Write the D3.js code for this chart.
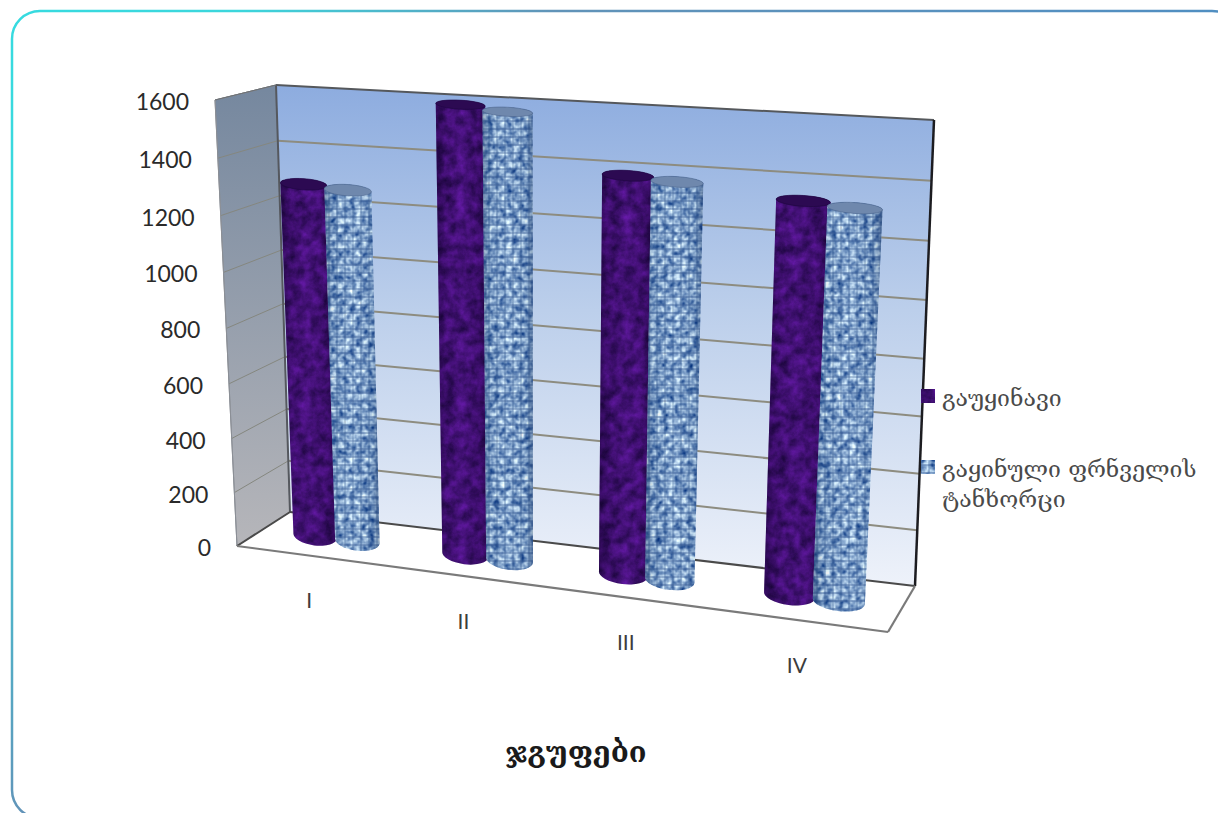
<!DOCTYPE html>
<html lang="ka">
<head>
<meta charset="utf-8">
<title>ჯგუფები</title>
<script src="https://cdn.jsdelivr.net/npm/d3@7"></script>
<style>
  html, body { margin: 0; padding: 0; background: #fff; overflow: hidden; }
  svg { display: block; }
</style>
</head>
<body>
<svg id="chart" width="1218" height="813"></svg>
<script>
// Chart data
const categories = ["I", "II", "III", "IV"];
const seriesNames = ["გაუყინავი", "გაყინული ფრნველის ტანხორცი"];
const unfrozen = [1290, 1600, 1395, 1350];
const frozen = [1280, 1585, 1385, 1338];
const yTicks = [0, 200, 400, 600, 800, 1000, 1200, 1400, 1600];
const axisTitle = "ჯგუფები";

const svg = d3.select("#chart");
const defs = svg.append("defs");

// Box corners on screen: floor level and ceiling level, front and back
const floorBox = { fl: [237, 546], fr: [888, 632], bl: [290, 512], br: [915, 586] };
const ceilBox = { fl: [215, 100], fr: [916, 142], bl: [276, 85], br: [934, 120] };

const lerp = (a, b, k) => a + (b - a) * k;
const lerp2 = (p, q, k) => [lerp(p[0], q[0], k), lerp(p[1], q[1], k)];
const onBox = (box, u, d) => lerp2(lerp2(box.fl, box.fr, u), lerp2(box.bl, box.br, u), d);

// Perspective foreshortening along an axis of the box
const warp = k => t => t / (1 + k - k * t);
const warpY = warp(0.05);
const warpX = warp(0.11);

const y = d3.scaleLinear().domain([0, 1600]).range([0, 1]);
const x0 = d3.scaleBand().domain(categories).range([0, 1]);
const x1 = d3.scaleBand().domain([0, 1]).range([0, x0.bandwidth()]).paddingInner(0).paddingOuter(0.754);

const project = (u, d, v) => lerp2(onBox(floorBox, u, d), onBox(ceilBox, u, d), warpY(y(v)));
const pathOf = pts => d3.line()(pts) + "Z";

// Fills
function linear(id, x1v, y1v, x2v, y2v, stops) {
  const g = defs.append("linearGradient").attr("id", id)
    .attr("gradientUnits", "userSpaceOnUse")
    .attr("x1", x1v).attr("y1", y1v).attr("x2", x2v).attr("y2", y2v);
  stops.forEach(([o, c]) => g.append("stop").attr("offset", o).attr("stop-color", c));
}
linear("frameStroke", 0, 0, 1218, 813, [[0, "#36dbe0"], [0.14, "#3cd6dc"], [0.32, "#6193b8"], [0.6, "#5590c0"], [1, "#3f88c4"]]);
linear("backWall", 0, 85, 0, 586, [[0, "#8dacdf"], [0.45, "#bccfeb"], [1, "#eef2fa"]]);
linear("leftWall", 0, 90, 0, 546, [[0, "#76889f"], [1, "#b6b6ba"]]);

function shade(id, stops) {
  const g = defs.append("linearGradient").attr("id", id);
  stops.forEach(([o, c, a]) => g.append("stop").attr("offset", o).attr("stop-color", c).attr("stop-opacity", a));
}
shade("shadePurple", [[0, "#12002c", 0.5], [0.2, "#12002c", 0.1], [0.5, "#6a20b0", 0.12], [0.8, "#12002c", 0.1], [1, "#12002c", 0.5]]);
shade("shadeBlue", [[0, "#2a4470", 0.6], [0.16, "#2a4470", 0.12], [0.5, "#ffffff", 0.06], [0.84, "#2a4470", 0.12], [1, "#2a4470", 0.6]]);

// Mottled cloth textures
function noise(id, freq, octaves, seed, matrix) {
  const f = defs.append("filter").attr("id", id)
    .attr("filterUnits", "objectBoundingBox")
    .attr("x", 0).attr("y", 0).attr("width", 1).attr("height", 1)
    .attr("color-interpolation-filters", "sRGB");
  f.append("feTurbulence").attr("type", "fractalNoise")
    .attr("baseFrequency", freq).attr("numOctaves", octaves).attr("seed", seed);
  f.append("feColorMatrix").attr("type", "matrix").attr("values", matrix);
}
noise("purpleCloth", "0.09", 4, 4,
  "0.38 0 0 0 0.06  0.10 0 0 0 0.01  0.55 0 0 0 0.17  0 0 0 0 1");
noise("blueCloth", "0.16", 2, 9,
  "1.4 0 0 0 -0.19  1.25 0 0 0 0.02  0.85 0 0 0 0.38  0 0 0 0 1");

const weave = defs.append("pattern").attr("id", "weave")
  .attr("patternUnits", "userSpaceOnUse").attr("width", 8).attr("height", 8);
weave.append("rect").attr("x", 0).attr("y", 0).attr("width", 8).attr("height", 2)
  .attr("fill", "#2f5590").attr("opacity", 0.38);
weave.append("rect").attr("x", 0).attr("y", 0).attr("width", 2).attr("height", 8)
  .attr("fill", "#2f5590").attr("opacity", 0.3);

// Page frame
svg.append("rect")
  .attr("x", 12).attr("y", 11).attr("width", 1228).attr("height", 807)
  .attr("rx", 28).attr("ry", 28)
  .attr("fill", "#fff").attr("stroke", "url(#frameStroke)").attr("stroke-width", 2.5);

// Box walls and floor
svg.append("path")
  .attr("d", pathOf([ceilBox.fl, ceilBox.bl, floorBox.bl, floorBox.fl]))
  .attr("fill", "url(#leftWall)").attr("stroke", "#8b8f96").attr("stroke-width", 1);
svg.append("path")
  .attr("d", pathOf([ceilBox.bl, ceilBox.br, floorBox.br, floorBox.bl]))
  .attr("fill", "url(#backWall)");

// Gridlines across both walls
const gridG = svg.append("g");
yTicks.slice(1).forEach(t => {
  gridG.append("line")
    .attr("x1", project(0, 0, t)[0]).attr("y1", project(0, 0, t)[1])
    .attr("x2", project(0, 1, t)[0]).attr("y2", project(0, 1, t)[1])
    .attr("stroke", "#85877f").attr("stroke-width", 1);
  if (t < 1600) gridG.append("line")
    .attr("x1", project(0, 1, t)[0]).attr("y1", project(0, 1, t)[1])
    .attr("x2", project(1, 1, t)[0]).attr("y2", project(1, 1, t)[1])
    .attr("stroke", "#8d8c80").attr("stroke-width", 2);
});

// Box edges
const edge = (a, b, color, w) => svg.append("line")
  .attr("x1", a[0]).attr("y1", a[1]).attr("x2", b[0]).attr("y2", b[1])
  .attr("stroke", color).attr("stroke-width", w);
edge(ceilBox.bl, ceilBox.br, "#55585c", 2);
edge(ceilBox.br, floorBox.br, "#1c1c20", 2.5);
edge(ceilBox.bl, floorBox.bl, "#55585e", 2);
edge(ceilBox.fl, ceilBox.bl, "#6c7078", 1);
edge(ceilBox.fl, floorBox.fl, "#8b8f96", 1);
edge(floorBox.bl, floorBox.br, "#4a4a4a", 2);
edge(floorBox.fl, floorBox.bl, "#4a4a4a", 2);
edge(floorBox.fl, floorBox.fr, "#7a7a7a", 2.2);
edge(floorBox.fr, floorBox.br, "#7a7a7a", 2.2);

// Cylinders, standing half way back on the floor
const depth = 0.5;
const groups = [
  { values: unfrozen, cloth: "purpleCloth", shadeId: "shadePurple", cap: "#2c0a52", capEdge: "#1e0640" },
  { values: frozen, cloth: "blueCloth", shadeId: "shadeBlue", cap: "#6f88ad", capEdge: "#4d668f" }
];

function cylinderShape(catIndex, seriesIndex, value) {
  const bw = x1.bandwidth();
  const start = x0(categories[catIndex]) + x1(seriesIndex);
  const grow = bw * 0.03;
  const uL = warpX(start - grow), uR = warpX(start + bw + grow), uC = warpX(start + bw / 2);
  const level = v => {
    const c = project(uC, depth, v);
    const l = project(uL, depth, v);
    const r = project(uR, depth, v);
    const rx = (r[0] - l[0]) / 2;
    const ang = Math.atan2(r[1] - l[1], r[0] - l[0]);
    const ry = lerp(10, 4.5, warpY(y(v)));
    return { c, rx, ry, ang, dx: rx * Math.cos(ang), dy: rx * Math.sin(ang) };
  };
  return { bottom: level(0), top: level(value) };
}

let clipId = 0;
const cylG = svg.append("g");
groups.forEach((group, s) => {
  group.values.forEach((value, i) => {
    const { bottom: b, top: t } = cylinderShape(i, s, value);
    const deg = a => a * 180 / Math.PI;
    const body =
      `M${t.c[0] - t.dx},${t.c[1] - t.dy}` +
      `L${b.c[0] - b.dx},${b.c[1] - b.dy}` +
      `A${b.rx},${b.ry} ${deg(b.ang)} 0 0 ${b.c[0] + b.dx},${b.c[1] + b.dy}` +
      `L${t.c[0] + t.dx},${t.c[1] + t.dy}` +
      `A${t.rx},${t.ry} ${deg(t.ang)} 0 0 ${t.c[0] - t.dx},${t.c[1] - t.dy}Z`;
    const id = "cyl" + clipId++;
    defs.append("clipPath").attr("id", id).append("path").attr("d", body);

    const minX = Math.min(t.c[0] - t.rx, b.c[0] - b.rx) - 2;
    const maxX = Math.max(t.c[0] + t.rx, b.c[0] + b.rx) + 2;
    const minY = t.c[1] - t.ry - 4;
    const maxY = b.c[1] + b.ry + 6;
    const g = cylG.append("g").attr("clip-path", `url(#${id})`);
    const frame = sel => sel.attr("x", minX).attr("y", minY)
      .attr("width", maxX - minX).attr("height", maxY - minY);
    g.append("rect").call(frame).attr("filter", `url(#${group.cloth})`);
    if (s === 1) g.append("rect").call(frame).attr("fill", "url(#weave)");
    g.append("rect").call(frame).attr("fill", `url(#${group.shadeId})`);

    cylG.append("ellipse")
      .attr("cx", t.c[0]).attr("cy", t.c[1])
      .attr("rx", t.rx).attr("ry", t.ry)
      .attr("transform", `rotate(${deg(t.ang)} ${t.c[0]} ${t.c[1]})`)
      .attr("fill", group.cap).attr("stroke", group.capEdge).attr("stroke-width", 0.6);
  });
});

// Value labels down the front edge of the left wall
const sans = "Lato, 'Open Sans', sans-serif";
const geo = "'DejaVu Serif', 'DejaVu Sans', serif";
svg.append("g").selectAll("text").data(yTicks).join("text")
  .attr("x", d => project(0, 0, d)[0] - 26)
  .attr("y", d => project(0, 0, d)[1] + 1)
  .attr("text-anchor", "end").attr("dominant-baseline", "central")
  .attr("font-family", sans).attr("font-size", 23).attr("fill", "#2a2a2a")
  .text(d => d);

// Group labels below the front floor edge
svg.append("g").selectAll("text").data(categories).join("text")
  .attr("x", d => project(warpX(x0(d) + x0.bandwidth() / 2), 0, 0)[0] - 2)
  .attr("y", d => project(warpX(x0(d) + x0.bandwidth() / 2), 0, 0)[1] + 44)
  .attr("text-anchor", "middle").attr("dominant-baseline", "central")
  .attr("font-family", sans).attr("font-size", 21).attr("fill", "#3c3c3c")
  .text(d => d);

// Axis title
svg.append("text")
  .attr("x", 576).attr("y", 762)
  .attr("text-anchor", "middle")
  .attr("font-family", geo).attr("font-weight", "bold").attr("font-size", 29).attr("fill", "#1a1a1a")
  .text(axisTitle);

// Legend
const legendRows = [
  { lines: [seriesNames[0]], y: 396, group: groups[0] },
  { lines: ["გაყინული ფრნველის", "ტანხორცი"], y: 467, group: groups[1] }
];
legendRows.forEach((row, idx) => {
  const g = svg.append("g");
  const swatch = sel => sel.attr("x", 921).attr("y", row.y - 6.5).attr("width", 14).attr("height", 13);
  g.append("rect").call(swatch).attr("filter", `url(#${row.group.cloth})`);
  if (idx === 1) g.append("rect").call(swatch).attr("fill", "url(#weave)");
  row.lines.forEach((line, j) => {
    g.append("text")
      .attr("x", 942).attr("y", row.y + 10 + j * 30)
      .attr("font-family", geo).attr("font-size", 23).attr("fill", "#4a4a4a")
      .text(line);
  });
});
</script>
</body>
</html>
